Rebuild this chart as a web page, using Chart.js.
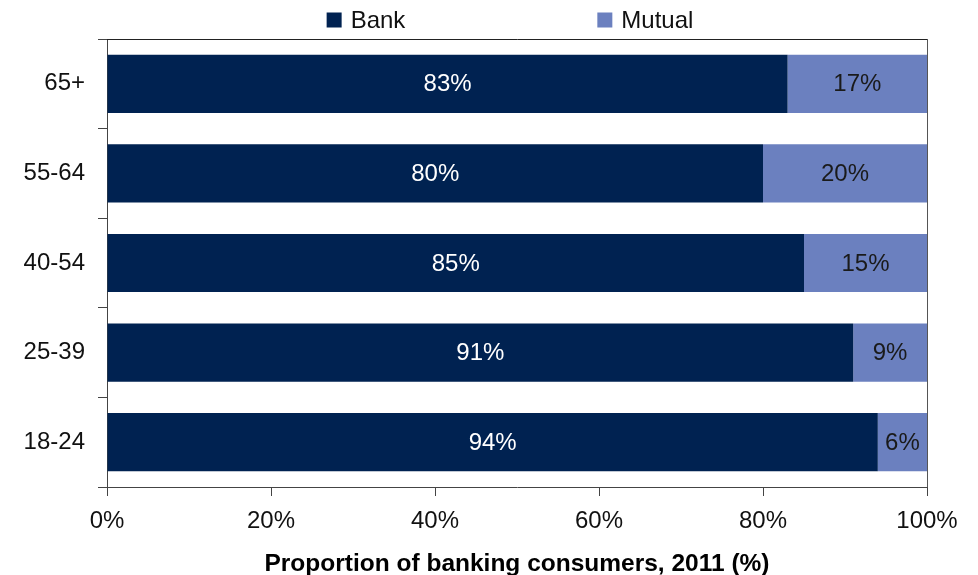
<!DOCTYPE html>
<html>
<head>
<meta charset="utf-8">
<script src="https://cdn.jsdelivr.net/npm/chart.js@4.4.1/dist/chart.umd.min.js"></script>
<style>
  html, body { margin: 0; padding: 0; background: #ffffff; }
  #wrap { width: 978px; height: 575px; }
</style>
</head>
<body>
<div id="wrap"><canvas id="chart" width="978" height="575"></canvas></div>
<script>
// Age groups, top to bottom
const ageGroups = ['65+', '55-64', '40-54', '25-39', '18-24'];
// Share of banking consumers by institution type (%)
const bankShare = [83, 80, 85, 91, 94];
const mutualShare = [17, 20, 15, 9, 6];
// Horizontal axis ticks (%)
const xTicks = [0, 20, 40, 60, 80, 100];
const seriesNames = ['Bank', 'Mutual'];

const FONT = 'Arial, "Liberation Sans", sans-serif';
const BANK_COLOR = '#002251';
const MUTUAL_COLOR = '#6b80bf';

// Value labels centred inside each bar segment
const segmentLabels = {
  id: 'segmentLabels',
  afterDatasetsDraw(chart) {
    const ctx = chart.ctx;
    ctx.save();
    ctx.font = '24px ' + FONT;
    ctx.textAlign = 'center';
    ctx.textBaseline = 'middle';
    chart.data.datasets.forEach((ds, di) => {
      const meta = chart.getDatasetMeta(di);
      meta.data.forEach((bar, i) => {
        const p = bar.getProps(['x', 'y', 'base'], true);
        ctx.fillStyle = ds.labelColor;
        ctx.fillText(ds.data[i] + '%', (p.x + p.base) / 2, p.y + 1);
      });
    });
    ctx.restore();
  }
};

// Frame around the plotting area (top and right edges)
const plotFrame = {
  id: 'plotFrame',
  afterDraw(chart) {
    const a = chart.chartArea;
    const ctx = chart.ctx;
    ctx.save();
    ctx.lineWidth = 1;
    ctx.strokeStyle = '#222222';
    ctx.beginPath();
    ctx.moveTo(a.left, a.top + 0.5);
    ctx.lineTo(a.right + 0.5, a.top + 0.5);
    ctx.stroke();
    ctx.strokeStyle = '#555555';
    ctx.beginPath();
    ctx.moveTo(a.right + 0.5, a.top);
    ctx.lineTo(a.right + 0.5, a.bottom);
    ctx.stroke();
    ctx.restore();
  }
};

// Legend row above the plot with wide spacing between entries
const wideLegend = {
  id: 'wideLegend',
  afterDraw(chart) {
    const ctx = chart.ctx;
    const box = 15, gapText = 9, gapItems = 192;
    ctx.save();
    ctx.font = '24px ' + FONT;
    ctx.textBaseline = 'middle';
    ctx.textAlign = 'left';
    const items = chart.data.datasets.map(ds => ({
      text: ds.label, color: ds.backgroundColor,
      w: box + gapText + ctx.measureText(ds.label).width
    }));
    const total = items.reduce((s, it) => s + it.w, 0) + gapItems * (items.length - 1);
    let x = (chart.chartArea.left + chart.chartArea.right) / 2 - 7 - total / 2;
    const cy = 20;
    items.forEach(it => {
      ctx.fillStyle = it.color;
      ctx.fillRect(x, cy - box / 2, box, box);
      ctx.fillStyle = '#111111';
      ctx.fillText(it.text, x + box + gapText, cy + 1);
      x += it.w + gapItems;
    });
    ctx.restore();
  }
};

new Chart(document.getElementById('chart'), {
  type: 'bar',
  data: {
    labels: ageGroups,
    datasets: [
      { label: seriesNames[0], data: bankShare, backgroundColor: BANK_COLOR, labelColor: '#ffffff',
        barPercentage: 0.65, categoryPercentage: 1.0 },
      { label: seriesNames[1], data: mutualShare, backgroundColor: MUTUAL_COLOR, labelColor: '#1a1a1a',
        barPercentage: 0.65, categoryPercentage: 1.0 }
    ]
  },
  options: {
    indexAxis: 'y',
    responsive: false,
    animation: false,
    events: [],
    layout: { padding: { top: 39, right: 51, left: 0, bottom: 0 } },
    plugins: {
      legend: { display: false },
      tooltip: { enabled: false }
    },
    scales: {
      x: {
        stacked: true,
        min: 0,
        max: 100,
        afterBuildTicks(scale) { scale.ticks = xTicks.map(v => ({ value: v })); },
        afterFit(scale) { scale.height = 88; },
        border: { display: true, color: '#444444', width: 1 },
        grid: { display: true, drawOnChartArea: false, drawTicks: true, tickLength: 9, color: '#444444' },
        ticks: {
          color: '#111111',
          font: { family: FONT, size: 24 },
          padding: 11,
          maxRotation: 0,
          callback: v => v + '%'
        },
        title: {
          display: true,
          text: 'Proportion of banking consumers, 2011 (%)',
          color: '#000000',
          font: { family: FONT, size: 24.5, weight: 'bold', lineHeight: 1 },
          padding: { top: 0, bottom: -1 }
        }
      },
      y: {
        stacked: true,
        afterFit(scale) { scale.width = 107; },
        border: { display: true, color: '#444444', width: 1 },
        grid: { display: true, offset: true, drawOnChartArea: false, drawTicks: true, tickLength: 9, color: '#444444' },
        ticks: {
          color: '#111111',
          font: { family: FONT, size: 24 },
          padding: 13
        }
      }
    }
  },
  plugins: [segmentLabels, plotFrame, wideLegend]
});
</script>
</body>
</html>
